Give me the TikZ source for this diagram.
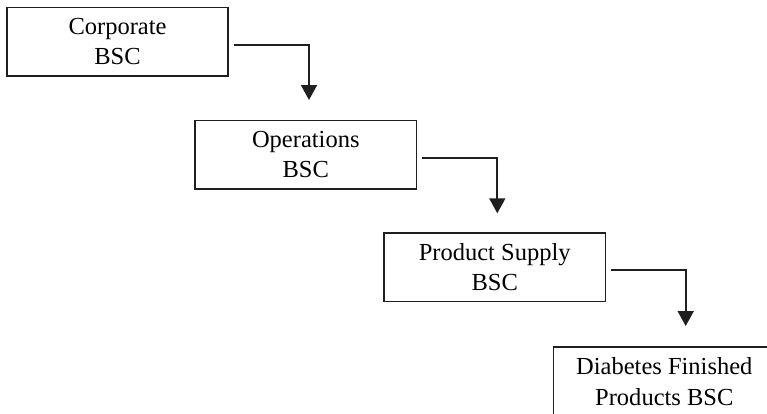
\documentclass[tikz,border=0pt]{standalone}
\usepackage{fontspec}
\setmainfont{Liberation Serif}
\usetikzlibrary{arrows.meta}
\begin{document}
\begin{tikzpicture}[x=1pt,y=-1pt,
  bsc/.style={draw=black!88, line width=1.7pt, minimum width=221.6pt, minimum height=68.7pt,
    inner sep=0pt, align=center, font=\fontsize{24.5}{30.5}\selectfont},
  conn/.style={draw=black!88, line width=1.7pt, -{Triangle[width=16pt,length=15pt]}}]
\useasboundingbox (0,0) rectangle (767,413);
\clip (0,0) rectangle (767,413);
\node[bsc] (b1) at (117.5,41.7) {Corporate\\BSC};
\node[bsc] (b2) at (305.8,154.7) {Operations\\BSC};
\node[bsc] (b3) at (494.7,267.2) {Product Supply\\BSC};
\node[bsc] (b4) at (664.3,381.5) {Diabetes Finished\\Products BSC};
\coordinate (t1) at (309,100);
\coordinate (t2) at (497.3,213.3);
\coordinate (t3) at (685.7,326);
\draw[conn] ([xshift=4.5pt,yshift=-3.3pt]b1.east) -| (t1);
\draw[conn] ([xshift=5pt,yshift=-3pt]b2.east) -| (t2);
\draw[conn] ([xshift=4.5pt,yshift=-2.8pt]b3.east) -| (t3);
\end{tikzpicture}
\end{document}
